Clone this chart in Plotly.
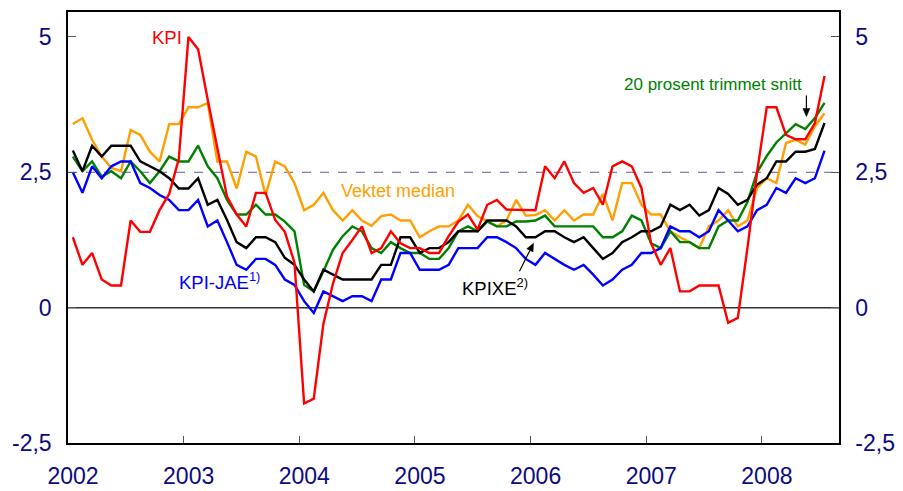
import plotly.graph_objects as go

# Monthly observations, Jan 2002 - Jul 2008
start_year = 2002
n_months = 79

kpi = [1.30, 0.79, 1.01, 0.52, 0.41, 0.41, 1.61, 1.40, 1.40, 1.80, 2.10, 2.75,
       5.00, 4.77, 3.84, 2.92, 2.05, 1.72, 1.50, 2.12, 2.12, 1.62, 1.40, 0.83,
       -1.77, -1.68, -0.30, 0.45, 1.01, 1.25, 1.50, 1.01, 1.10, 1.41, 1.19, 1.10,
       1.10, 1.01, 1.01, 1.32, 1.59, 1.72, 1.44, 1.90, 1.99, 1.81, 1.81, 1.81,
       1.80, 2.61, 2.39, 2.70, 2.30, 2.12, 2.21, 1.90, 2.61, 2.70, 2.61, 2.21,
       1.19, 0.79, 1.10, 0.30, 0.30, 0.41, 0.41, 0.41, -0.28, -0.19, 1.10, 2.50,
       3.70, 3.70, 3.19, 3.11, 3.11, 3.41, 4.28]

vektet_median = [3.39, 3.50, 3.10, 2.79, 2.58, 2.52, 3.28, 3.19, 2.88, 2.70, 3.39, 3.39,
                 3.70, 3.70, 3.78, 2.70, 2.70, 2.20, 2.88, 2.79, 2.08, 2.70, 2.61, 2.30,
                 1.80, 1.90, 2.12, 1.80, 1.61, 1.80, 1.61, 1.51, 1.69, 1.72, 1.61, 1.61,
                 1.30, 1.41, 1.50, 1.50, 1.61, 1.90, 1.69, 1.60, 1.50, 1.61, 1.99, 1.70,
                 1.71, 1.80, 1.61, 1.80, 1.61, 1.72, 1.72, 2.10, 1.61, 2.30, 2.30, 1.90,
                 1.72, 1.72, 1.41, 1.30, 1.21, 1.10, 1.50, 1.61, 1.80, 1.50, 1.61, 2.21,
                 2.39, 2.30, 3.04, 3.10, 3.01, 3.35, 3.59]

trimmet_snitt = [2.79, 2.52, 2.70, 2.42, 2.52, 2.39, 2.70, 2.52, 2.30, 2.52, 2.79, 2.70,
                 2.70, 2.99, 2.61, 2.39, 1.99, 1.72, 1.72, 1.90, 1.72, 1.72, 1.59, 1.41,
                 0.42, 0.30, 0.67, 1.07, 1.32, 1.50, 1.41, 1.10, 1.01, 1.21, 1.10, 1.01,
                 1.01, 0.90, 0.90, 1.10, 1.41, 1.50, 1.41, 1.59, 1.50, 1.50, 1.59, 1.59,
                 1.61, 1.70, 1.50, 1.50, 1.50, 1.50, 1.50, 1.30, 1.30, 1.41, 1.70, 1.61,
                 1.19, 1.10, 1.41, 1.21, 1.21, 1.10, 1.10, 1.50, 1.61, 1.61, 1.95, 2.50,
                 2.80, 3.05, 3.22, 3.39, 3.30, 3.50, 3.78]

kpixe = [2.90, 2.52, 2.99, 2.79, 2.99, 2.99, 2.99, 2.70, 2.61, 2.52, 2.39, 2.20,
         2.20, 2.39, 1.90, 1.99, 1.62, 1.21, 1.10, 1.30, 1.30, 1.21, 0.92, 0.79,
         0.52, 0.30, 0.70, 0.61, 0.52, 0.52, 0.52, 0.52, 0.79, 0.79, 1.30, 1.30,
         1.01, 1.10, 1.10, 1.21, 1.41, 1.41, 1.41, 1.61, 1.61, 1.61, 1.50, 1.30,
         1.30, 1.41, 1.41, 1.30, 1.21, 1.30, 1.10, 0.90, 1.01, 1.21, 1.30, 1.41,
         1.41, 1.50, 1.90, 1.80, 1.90, 1.70, 1.80, 2.21, 2.10, 1.90, 1.99, 2.27,
         2.39, 2.70, 2.70, 2.88, 2.88, 2.93, 3.41]

kpi_jae = [2.50, 2.12, 2.61, 2.39, 2.61, 2.70, 2.70, 2.30, 2.21, 2.08, 1.99, 1.80,
           1.80, 1.99, 1.50, 1.61, 1.21, 0.79, 0.70, 0.90, 0.90, 0.79, 0.52, 0.42,
           0.12, -0.10, 0.30, 0.21, 0.12, 0.21, 0.21, 0.12, 0.52, 0.52, 1.01, 1.01,
           0.70, 0.70, 0.70, 0.79, 1.10, 1.10, 1.10, 1.30, 1.30, 1.21, 1.10, 0.90,
           0.79, 1.01, 0.90, 0.79, 0.70, 0.79, 0.61, 0.41, 0.52, 0.70, 0.79, 1.01,
           1.01, 1.10, 1.50, 1.41, 1.41, 1.30, 1.41, 1.80, 1.61, 1.41, 1.50, 1.80,
           1.90, 2.21, 2.12, 2.39, 2.30, 2.39, 2.90]

year_ticks = [2002, 2003, 2004, 2005, 2006, 2007, 2008]
year_labels = ["2002", "2003", "2004", "2005", "2006", "2007", "2008"]
y_ticks = [-2.5, 0, 2.5, 5]
y_labels = ["-2,5", "0", "2,5", "5"]
target = 2.5

x = [start_year + (i + 0.5) / 12 for i in range(n_months)]

NAVY = "#0a0a82"
FONT = "Liberation Sans, Arial, sans-serif"

fig = go.Figure()

series = [
    ("Vektet median", vektet_median, "#FF9F00"),
    ("20 prosent trimmet snitt", trimmet_snitt, "#008000"),
    ("KPI-JAE", kpi_jae, "#0000FF"),
    ("KPIXE", kpixe, "#000000"),
    ("KPI", kpi, "#FF0000"),
]
for name, vals, col in series:
    fig.add_trace(go.Scatter(x=x, y=vals, mode="lines", name=name,
                             line=dict(color=col, width=2.4), hoverinfo="skip"))

# invisible trace to anchor right axis
fig.add_trace(go.Scatter(x=[x[0]], y=[0], yaxis="y2", mode="markers",
                         marker=dict(opacity=0), showlegend=False, hoverinfo="skip"))

# reference lines
fig.add_shape(type="line", xref="paper", x0=0, x1=1, yref="y", y0=0, y1=0,
              line=dict(color="#333333", width=1.5), layer="below")
fig.add_shape(type="line", xref="paper", x0=0, x1=1, yref="y", y0=target, y1=target,
              line=dict(color="#5a5aa0", width=1, dash="dash"), layer="below")


def arrow(tip_x, tip_y, line_path, head_path):
    common = dict(xref="x", yref="y", xsizemode="pixel", ysizemode="pixel",
                  xanchor=tip_x, yanchor=tip_y)
    fig.add_shape(type="path", path=line_path, line=dict(color="#000000", width=1.2),
                  **common)
    fig.add_shape(type="path", path=head_path, fillcolor="#000000",
                  line=dict(color="#000000", width=0.5), **common)


# KPIXE arrow (pointing up-right to the black line)
arrow(2006.025, 1.19, "M -14,-28 L -3.6,-7.2", "M 0,0 L -0.45,-8.7 L -6.7,-5.6 Z")
# 20 prosent trimmet snitt arrow (pointing down)
arrow(2008.385, 3.53, "M 0,21 L 0,7", "M 0,0 L -3.5,8 L 3.5,8 Z")

ann_font = lambda c, s=18: dict(family=FONT, size=s, color=c)
fig.add_annotation(x=2002.853, y=4.99, text="KPI", showarrow=False,
                   font=ann_font("#FF0000", 18.5))
fig.add_annotation(x=2004.857, y=2.16, text="Vektet median", showarrow=False,
                   font=ann_font("#FF9F00", 18))
fig.add_annotation(x=2007.58, y=4.12, text="20 prosent trimmet snitt", showarrow=False,
                   font=ann_font("#008000", 17))
fig.add_annotation(x=2003.311, y=0.50, text="KPI-JAE<sup>1)</sup>", showarrow=False,
                   font=ann_font("#0000FF", 18.5))
fig.add_annotation(x=2005.688, y=0.39, text="KPIXE<sup>2)</sup>", showarrow=False,
                   font=ann_font("#000000", 18.5))

tickfont = dict(family=FONT, size=23, color=NAVY)
# the page body has an 8px margin, so the figure is offset by 8px
fig.update_layout(
    width=895, height=483,
    margin=dict(l=60, r=64, t=4, b=48, autoexpand=False),
    paper_bgcolor="white", plot_bgcolor="white",
    showlegend=False,
    font=dict(family=FONT, color=NAVY),
    xaxis=dict(range=[2002, 2002 + 8 / 12 + 6], tickvals=year_ticks, ticktext=year_labels,
               ticks="inside", ticklen=7, tickcolor="#555555", showgrid=False, zeroline=False,
               showline=True, linecolor="#000000", linewidth=1.5, mirror=True,
               tickfont=tickfont, automargin=False,
               ticklabelshift=5, ticklabelstandoff=12),
    yaxis=dict(range=[-2.5, 5.46], tickvals=y_ticks, ticktext=y_labels,
               ticks="inside", ticklen=8, tickcolor="#555555", showgrid=False, zeroline=False,
               showline=True, linecolor="#000000", linewidth=1.5, automargin=False,
               tickfont=tickfont, ticklabelstandoff=10),
    yaxis2=dict(range=[-2.5, 5.46], tickvals=y_ticks, ticktext=y_labels, overlaying="y",
                side="right", ticks="inside", ticklen=8, tickcolor="#555555",
                showgrid=False, zeroline=False, showline=True, linecolor="#000000",
                linewidth=1.5, tickfont=tickfont, automargin=False,
                ticklabelstandoff=10),
)

fig.write_html("out.html")
